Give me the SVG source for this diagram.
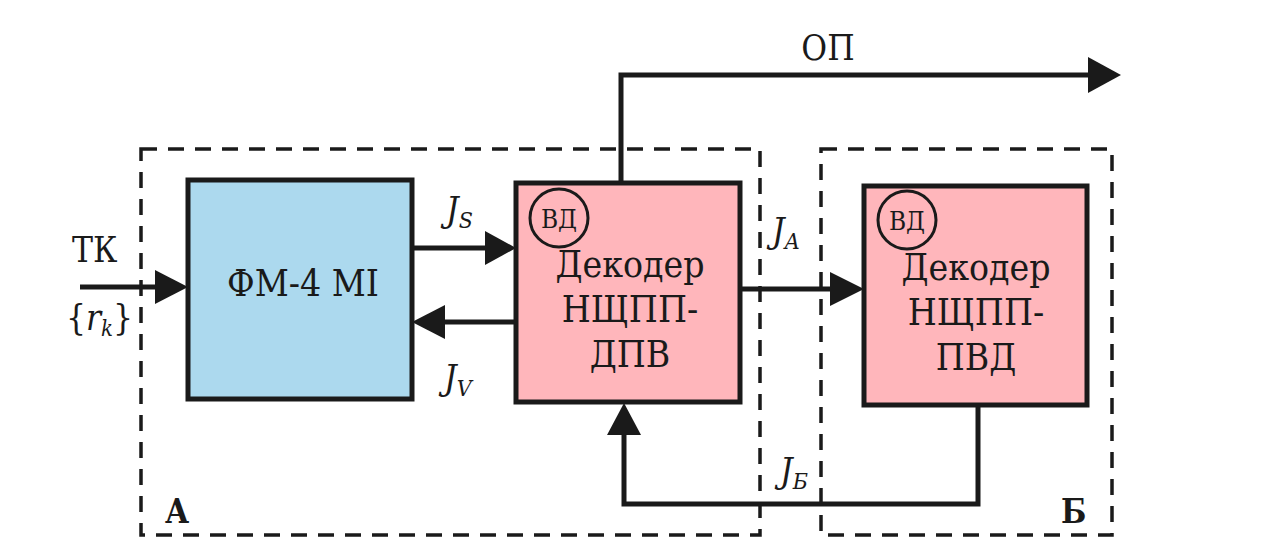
<svg xmlns="http://www.w3.org/2000/svg" width="1262" height="538" viewBox="0 0 1262 538">
<defs>
<style>
.dash{fill:none;stroke:#1a1a1a;stroke-width:3.5;stroke-dasharray:16 11}
.box{stroke:#1a1a1a;stroke-width:5}
.blue{fill:#acd9ee}
.pink{fill:#ffb6bb}
.line{fill:none;stroke:#1a1a1a;stroke-width:5}
text{font-family:'DejaVu Serif Condensed','DejaVu Serif',serif;font-stretch:condensed;fill:#1a1a1a}
.big{font-size:37px}
.lab{font-size:35px}
.it{font-style:italic}
.bold{font-weight:bold;font-size:33px}
.circ{fill:none;stroke:#1a1a1a;stroke-width:3}
</style>
</defs>
<rect width="1262" height="538" fill="#ffffff"/>

<g id="regionA">
<rect class="dash" x="141" y="149" width="619" height="386"/>
<text class="bold" x="165" y="523">А</text>
</g>
<g id="regionB">
<rect class="dash" x="821" y="149" width="291" height="386"/>
<text class="bold" x="1061" y="523">Б</text>
</g>

<g id="connectors">
<path class="line" d="M80,287 L155,287"/>
<path d="M155,270 L188,287 L155,304 z" fill="#1a1a1a"/>
<path class="line" d="M412,248 L485,248"/>
<path d="M485,231 L516,248 L485,265 z" fill="#1a1a1a"/>
<path class="line" d="M516,322 L445,322"/>
<path d="M445,305 L412,322 L445,339 z" fill="#1a1a1a"/>
<path class="line" d="M740,289 L830,289"/>
<path d="M830,272 L864,289 L830,306 z" fill="#1a1a1a"/>
<path class="line" d="M621,183 L621,75 L1088,75"/>
<path d="M1088,57 L1121,75 L1088,93 z" fill="#1a1a1a"/>
<path class="line" d="M978,405 L978,504 L624,504 L624,435"/>
<path d="M607,435 L624,403 L641,435 z" fill="#1a1a1a"/>
<text class="lab" x="72" y="262">ТК</text>
<text class="lab" x="66" y="330">{<tspan class="it">r</tspan><tspan class="it" font-size="22" dy="6">k</tspan><tspan dy="-6">}</tspan></text>
<text class="lab it" x="446" y="222">J<tspan font-size="23" dy="6">S</tspan></text>
<text class="lab it" x="444" y="390">J<tspan font-size="23" dy="6">V</tspan></text>
<text class="lab it" x="772" y="243">J<tspan font-size="23" dy="6">A</tspan></text>
<text class="lab it" x="780" y="483">J<tspan font-size="23" dy="6">Б</tspan></text>
<text class="lab" x="828" y="60" text-anchor="middle">ОП</text>
</g>

<g id="fm4">
<rect class="box blue" x="188" y="180" width="224" height="219"/>
<text class="big" x="303" y="296" text-anchor="middle">ФМ-4 MI</text>
</g>

<g id="decoder1">
<rect class="box pink" x="516" y="183" width="224" height="219"/>
<circle class="circ" cx="559" cy="218" r="29"/>
<text x="559" y="228" font-size="26" text-anchor="middle">ВД</text>
<text class="big" x="630" y="277" text-anchor="middle">Декодер</text>
<text class="big" x="630" y="322" text-anchor="middle">НЩПП-</text>
<text class="big" x="630" y="367" text-anchor="middle">ДПВ</text>
</g>

<g id="decoder2">
<rect class="box pink" x="864" y="186" width="223" height="219"/>
<circle class="circ" cx="907" cy="220" r="29"/>
<text x="907" y="230" font-size="26" text-anchor="middle">ВД</text>
<text class="big" x="976" y="280" text-anchor="middle">Декодер</text>
<text class="big" x="976" y="325" text-anchor="middle">НЩПП-</text>
<text class="big" x="976" y="370" text-anchor="middle">ПВД</text>
</g>
</svg>
